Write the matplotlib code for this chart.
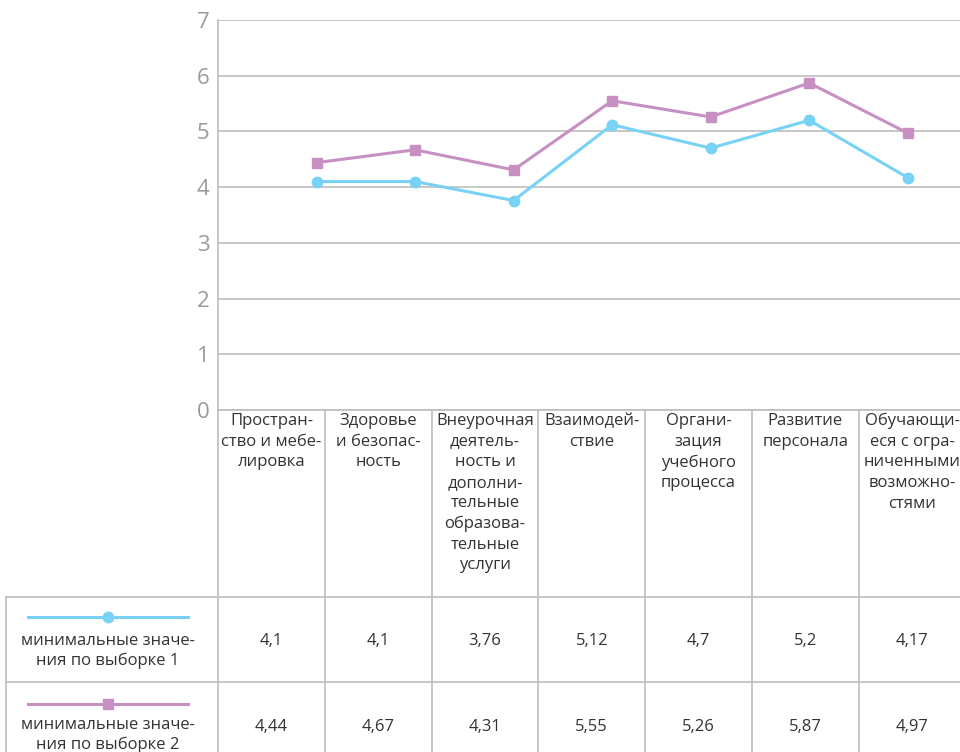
import matplotlib
matplotlib.use("Agg")
import matplotlib.pyplot as plt
from matplotlib import rcParams

rcParams.update({
    "font.family": ["Open Sans", "DejaVu Sans"],
    "figure.dpi": 100,
})

# ── Data ──────────────────────────────────────────────────────────────────────
categories = [
    "Простран-\nство и мебе-\nлировка",
    "Здоровье\nи безопас-\nность",
    "Внеурочная\nдеятель-\nность и\nдополни-\nтельные\nобразова-\nтельные\nуслуги",
    "Взаимодей-\nствие",
    "Органи-\nзация\nучебного\nпроцесса",
    "Развитие\nперсонала",
    "Обучающи-\nеся с огра-\nниченными\nвозможно-\nстями",
]
series_names = ["минимальные значе-\nния по выборке 1",
                "минимальные значе-\nния по выборке 2"]
sample1 = [4.1, 4.1, 3.76, 5.12, 4.7, 5.2, 4.17]
sample2 = [4.44, 4.67, 4.31, 5.55, 5.26, 5.87, 4.97]
value_labels1 = ["4,1", "4,1", "3,76", "5,12", "4,7", "5,2", "4,17"]
value_labels2 = ["4,44", "4,67", "4,31", "5,55", "5,26", "5,87", "4,97"]
y_ticks = [0, 1, 2, 3, 4, 5, 6, 7]

BLUE = "#78D2F6"
PINK = "#C790C3"
GRID = "#BDBDBD"
TXT = "#333333"

W, H = 960, 752
fig = plt.figure(figsize=(W / 100, H / 100))

# ── Chart area (pixel layout) ─────────────────────────────────────────────────
ax_l, ax_r, ax_t, ax_b = 218, 960, 20, 410
ax = fig.add_axes([ax_l / W, 1 - ax_b / H, (ax_r - ax_l) / W, (ax_b - ax_t) / H])
ax.set_ylim(0, 7)
ax.set_yticks(y_ticks)
ax.set_yticklabels([str(t) for t in y_ticks], fontsize=16, color="#9A9A9A")
ax.tick_params(axis="y", length=0, pad=6)
ax.set_xticks([])
for s in ["top", "right"]:
    ax.spines[s].set_visible(False)
for s in ["left", "bottom"]:
    ax.spines[s].set_color(GRID)
    ax.spines[s].set_linewidth(1.2)
ax.grid(axis="y", color=GRID, linewidth=1.2)
ax.set_axisbelow(True)

xs = list(range(len(categories)))
ax.set_xlim(-1.0, 6.53)
ax.plot(xs, sample1, color=BLUE, lw=2.2, marker="o", ms=7.5, clip_on=False)
ax.plot(xs, sample2, color=PINK, lw=2.2, marker="s", ms=7.5, clip_on=False)

# ── Data table below ──────────────────────────────────────────────────────────
tab = fig.add_axes([0, 0, 1, 1])
tab.set_xlim(0, W)
tab.set_ylim(H, 0)
tab.axis("off")

col_w = 106.8
bounds = [ax_l + i * col_w for i in range(len(categories) + 1)]
row_top, row_hdr, row_1, row_2 = 411, 597, 682, 752
lc = dict(color=GRID, lw=1.2)

# column borders
for b in bounds[:-1]:
    tab.plot([b, b], [row_top, row_2], **lc)
tab.plot([6, 6], [row_hdr, row_2], **lc)
tab.plot([6, W], [row_hdr, row_hdr], **lc)
tab.plot([6, W], [row_1, row_1], **lc)

# header text
for i, cat in enumerate(categories):
    cx = (bounds[i] + bounds[i + 1]) / 2
    tab.text(cx, 413, cat, ha="center", va="top", fontsize=12, color=TXT,
             linespacing=1.38)

# values
for i in range(len(categories)):
    cx = (bounds[i] + bounds[i + 1]) / 2
    tab.text(cx, 641, value_labels1[i], ha="center", va="center", fontsize=12, color=TXT)
    tab.text(cx, 727, value_labels2[i], ha="center", va="center", fontsize=12, color=TXT)

# row headers with legend keys
for name, color, mk, ly, ty in [(series_names[0], BLUE, "o", 617, 651),
                                (series_names[1], PINK, "s", 704, 735)]:
    tab.plot([28, 188], [ly, ly], color=color, lw=2.2)
    tab.plot([108], [ly], color=color, marker=mk, ms=7.5)
    tab.text(108, ty, name, ha="center", va="center", fontsize=12, color=TXT,
             linespacing=1.25)

fig.savefig("out.png", dpi=100)
